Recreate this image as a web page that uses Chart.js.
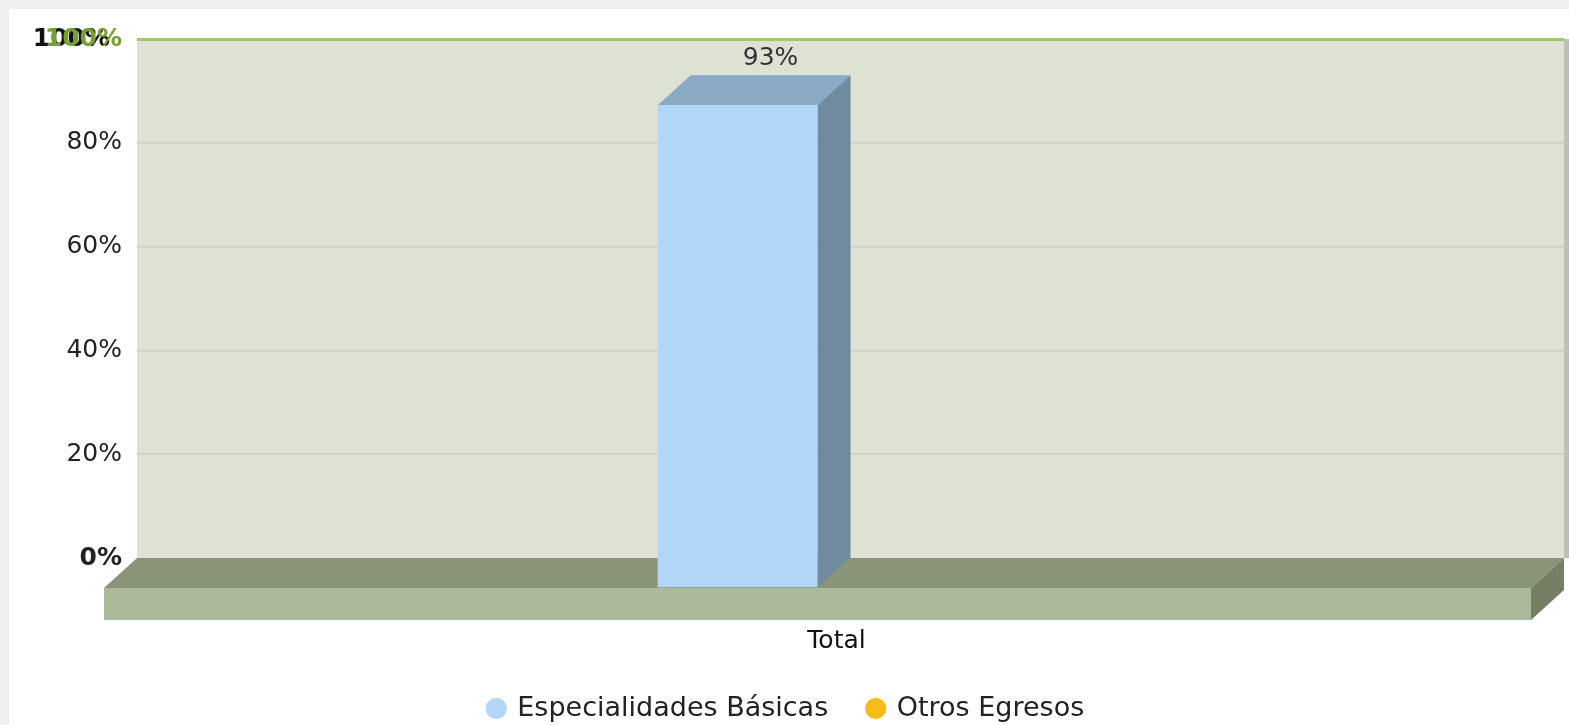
<!DOCTYPE html>
<html>
<head>
<meta charset="utf-8">
<script src="https://cdn.jsdelivr.net/npm/chart.js@4.4.0/dist/chart.umd.min.js"></script>
<style>
  html, body { margin: 0; padding: 0; background: #efefef; overflow: hidden; }
  #wrap { position: absolute; left: 9px; top: 9px; width: 1560px; height: 716px; background: #fff; }
</style>
</head>
<body>
<div id="wrap"><canvas id="grafico" width="1560" height="716"></canvas></div>
<script>
const categorias = ['Total']
const especialidades = [93]
const otrosEgresos = [null]
const ticksY = [0, 20, 40, 60, 80, 100]

// desplazamiento de la cara frontal (efecto 3D)
const DX = -33, DY = 30

function poly(ctx, pts) {
    ctx.beginPath()
    ctx.moveTo(pts[0][0], pts[0][1])
    for (let i = 1; i < pts.length; i++) ctx.lineTo(pts[i][0], pts[i][1])
    ctx.closePath()
    ctx.fill()
}

const valorTick = c => (c && c.tick) ? c.tick.value : null

const efecto3d = {
    id: 'efecto3d',
    beforeDraw(chart) {
        const {ctx, chartArea: a} = chart
        ctx.save()
        ctx.fillStyle = '#DEE2D3'
        ctx.fillRect(a.left, a.top, a.right - a.left, a.bottom - a.top)
        ctx.fillStyle = '#BCC0B6'
        ctx.fillRect(a.right, a.top, 5, a.bottom - a.top)
        // etiqueta 100% negra que queda detras de la verde
        const y100 = chart.scales.y.getPixelForValue(100)
        ctx.font = 'bold 25px "DejaVu Sans"'
        ctx.fillStyle = '#111'
        ctx.textAlign = 'right'
        ctx.textBaseline = 'middle'
        ctx.fillText('100%', a.left - 15 - 12, y100)
        ctx.restore()
    },
    beforeDatasetsDraw(chart) {
        // piso
        const {ctx, chartArea: a} = chart
        const b = a.bottom, h = 32
        ctx.save()
        ctx.fillStyle = '#899478'
        poly(ctx, [[a.left, b], [a.right, b], [a.right + DX, b + DY], [a.left + DX, b + DY]])
        ctx.fillStyle = '#ABBA9A'
        ctx.fillRect(a.left + DX, b + DY, a.right - a.left, h)
        ctx.fillStyle = '#747F64'
        poly(ctx, [[a.right + DX, b + DY], [a.right, b], [a.right, b + h], [a.right + DX, b + DY + h]])
        ctx.restore()
    },
    beforeDatasetDraw(chart, args) {
        const ctx = chart.ctx
        const datos = chart.data.datasets[args.index].data
        ctx.save()
        args.meta.data.forEach((bar, i) => {
            if (datos[i] == null) return
            const {x, y, base, width} = bar.getProps(['x', 'y', 'base', 'width'])
            const l = x - width / 2, r = x + width / 2
            ctx.fillStyle = '#8AAAC5'
            poly(ctx, [[l, y], [r, y], [r + DX, y + DY], [l + DX, y + DY]])
            ctx.fillStyle = '#708BA0'
            poly(ctx, [[r, y], [r, base], [r + DX, base + DY], [r + DX, y + DY]])
        })
        ctx.translate(DX, DY)
    },
    afterDatasetDraw(chart) {
        chart.ctx.restore()
    },
    afterDatasetsDraw(chart) {
        const ctx = chart.ctx
        ctx.save()
        ctx.font = '25px "DejaVu Sans"'
        ctx.fillStyle = '#333'
        ctx.textAlign = 'center'
        ctx.textBaseline = 'middle'
        chart.data.datasets.forEach((ds, di) => {
            chart.getDatasetMeta(di).data.forEach((bar, i) => {
                if (ds.data[i] == null) return
                ctx.fillText(ds.data[i] + '%', bar.x, bar.y - 17)
            })
        })
        ctx.restore()
    }
}

Chart.defaults.font.family = '"DejaVu Sans", Verdana, sans-serif'
Chart.defaults.font.size = 26
Chart.defaults.color = '#222'

const ctx = document.getElementById('grafico').getContext('2d')

const grafico = new Chart(ctx, {
    type: 'bar',
    data: {
        labels: categorias,
        datasets: [{
            label: 'Especialidades Básicas',
            data: especialidades,
            backgroundColor: '#B1D6F6',
            borderWidth: 0,
            categoryPercentage: 0.224,
            barPercentage: 1
        }, {
            label: 'Otros Egresos',
            data: otrosEgresos,
            backgroundColor: '#F6BC17',
            borderWidth: 0,
            categoryPercentage: 0.224,
            barPercentage: 1
        }]
    },
    options: {
        responsive: false,
        animation: false,
        layout: { padding: { top: 29, right: 5, left: 0, bottom: -7 } },
        scales: {
            x: {
                offset: true,
                grid: { display: false },
                border: { display: false },
                ticks: { padding: 60, labelOffset: -14, color: '#111', font: { size: 25 } },
                afterFit: s => { s.height = 97 }
            },
            y: {
                min: 0,
                max: 100,
                afterBuildTicks: s => { s.ticks = ticksY.map(v => ({ value: v })) },
                border: { display: false },
                grid: {
                    drawTicks: false,
                    color: c => valorTick(c) === 100 ? '#A5C477' : (valorTick(c) === 0 ? 'rgba(0,0,0,0)' : '#C9CCC9'),
                    lineWidth: c => valorTick(c) === 100 ? 3 : 1.5
                },
                ticks: {
                    padding: 15,
                    callback: v => v + '%',
                    color: c => valorTick(c) === 100 ? '#76A032' : '#222',
                    font: c => ({ size: 25, weight: (valorTick(c) === 0 || valorTick(c) === 100) ? 'bold' : 'normal' })
                },
                afterFit: s => { s.width = 128 }
            }
        },
        plugins: {
            legend: {
                position: 'bottom',
                labels: {
                    usePointStyle: true,
                    pointStyle: 'circle',
                    boxWidth: 15,
                    boxHeight: 15,
                    padding: 40,
                    color: '#222',
                    font: { size: 27 }
                }
            },
            tooltip: { enabled: false }
        }
    },
    plugins: [efecto3d]
})
</script>
</body>
</html>
